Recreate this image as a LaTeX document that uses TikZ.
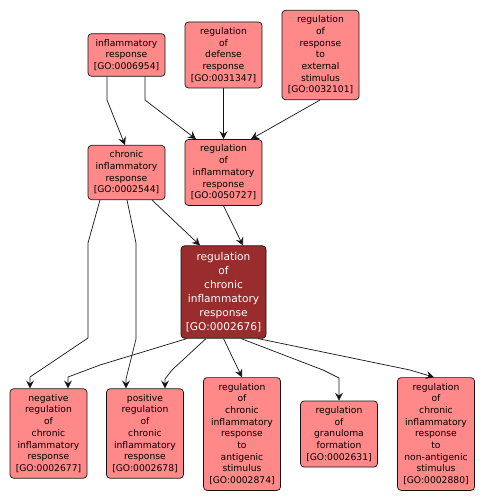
\documentclass[tikz,border=0pt]{standalone}
\usepackage{fontspec}
\setmainfont{DejaVu Sans}
\usepackage{xcolor}
\usetikzlibrary{arrows.meta, positioning}
\definecolor{gopink}{RGB}{255,136,136}
\definecolor{godark}{RGB}{153,45,45}
\definecolor{goedge}{RGB}{20,20,20}
\begin{document}
\begin{tikzpicture}[
  x=1pt, y=-1pt,
  >={Stealth[length=8pt, width=8pt, inset=3pt]},
  goterm/.style={draw=goedge, fill=gopink, rounded corners=3.5pt, line width=0.7pt,
                 minimum width=77pt, inner xsep=2pt, inner ysep=5.5pt, align=center,
                 font=\fontsize{9.2}{11.7}\selectfont},
  goselected/.style={draw=goedge, fill=godark, text=white, rounded corners=3.5pt,
                     line width=0.7pt, minimum width=85pt, inner xsep=2pt, inner ysep=6.5pt,
                     align=center, font=\fontsize{10.6}{14}\selectfont},
  isa/.style={->, line width=0.7pt, goedge}
]
\useasboundingbox (0,0) rectangle (486,502);
\node[goterm] (infl)     at (126.5,55)  {inflammatory\\response\\{[GO:0006954]}};
\node[goterm] (defense)  at (223.5,55)  {regulation\\of\\defense\\response\\{[GO:0031347]}};
\node[goterm] (extstim)  at (320.5,55)  {regulation\\of\\response\\to\\external\\stimulus\\{[GO:0032101]}};
\node[goterm] (chronic)  at (126.5,172.5) {chronic\\inflammatory\\response\\{[GO:0002544]}};
\node[goterm] (reginfl)  at (223.5,172.5) {regulation\\of\\inflammatory\\response\\{[GO:0050727]}};
\node[goselected] (regchronic) at (223.5,292)
  {regulation\\of\\chronic\\inflammatory\\response\\{[GO:0002676]}};
\node[goterm] (negreg)    at (48.5,433.5) {negative\\regulation\\of\\chronic\\inflammatory\\response\\{[GO:0002677]}};
\node[goterm] (posreg)    at (145,433.5)  {positive\\regulation\\of\\chronic\\inflammatory\\response\\{[GO:0002678]}};
\node[goterm] (antigen)   at (242,434)    {regulation\\of\\chronic\\inflammatory\\response\\to\\antigenic\\stimulus\\{[GO:0002874]}};
\node[goterm] (granuloma) at (339,434)    {regulation\\of\\granuloma\\formation\\{[GO:0002631]}};
\node[goterm] (nonantigen) at (436,434)   {regulation\\of\\chronic\\inflammatory\\response\\to\\non-antigenic\\stimulus\\{[GO:0002880]}};
\draw[isa] ([xshift=-19.5pt]infl.south) -- (107,100) -- ([xshift=-1.5pt]chronic.north);
\draw[isa] ([xshift=18.5pt]infl.south) -- (145,100) -- ([xshift=-27.5pt]reginfl.north);
\draw[isa] (defense) -- (reginfl);
\draw[isa] ([xshift=-0.5pt]extstim.south) -- ([xshift=27.5pt]reginfl.north);
\draw[isa] ([xshift=25.5pt]chronic.south) -- ([xshift=-23.5pt]regchronic.north);
\draw[isa] (reginfl.south) -- ([xshift=19.5pt]regchronic.north);
\draw[isa] ([xshift=-26.5pt]chronic.south) -- (88,243) -- (88,338) -- (30,377) -- ([xshift=-18.5pt]negreg.north);
\draw[isa] ([xshift=0.5pt]chronic.south) -- (136,243) -- (136,339) -- (126,379) -- ([xshift=-19pt]posreg.north);
\draw[isa] ([xshift=-36.5pt]regchronic.south) -- (100,365) -- (68,377) -- ([xshift=19.5pt]negreg.north);
\draw[isa] ([xshift=-17.5pt]regchronic.south) -- (172,370) -- (165,379) -- ([xshift=20pt]posreg.north);
\draw[isa] (regchronic.south) -- (antigen.north);
\draw[isa] ([xshift=17.5pt]regchronic.south) -- (323,370) -- (339,378) -- (granuloma.north);
\draw[isa] ([xshift=34.5pt]regchronic.south) -- (410,370) -- ([xshift=-2pt]nonantigen.north);
\end{tikzpicture}
\end{document}
